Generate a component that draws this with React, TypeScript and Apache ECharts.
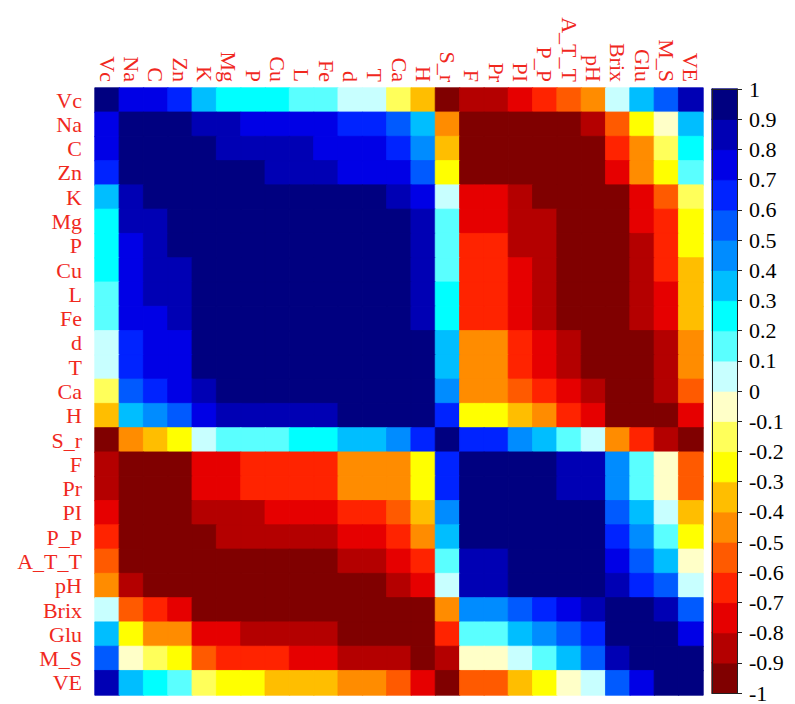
import { useEffect, useRef } from "react";
import * as echarts from "echarts";

const categories = ["Vc", "Na", "C", "Zn", "K", "Mg", "P", "Cu", "L", "Fe", "d", "T", "Ca", "H", "S_r", "F", "Pr", "PI", "P_P", "A_T_T", "pH", "Brix", "Glu", "M_S", "VE"];

const rowVc = [1, 0.75, 0.75, 0.65, 0.35, 0.25, 0.25, 0.25, 0.15, 0.15, 0.05, 0.05, -0.15, -0.35, -0.95, -0.85, -0.85, -0.75, -0.65, -0.55, -0.45, 0.05, 0.35, 0.55, 0.85];
const rowNa = [0.75, 1, 0.95, 0.95, 0.85, 0.85, 0.75, 0.75, 0.75, 0.75, 0.65, 0.65, 0.55, 0.35, -0.45, -0.95, -0.95, -0.95, -0.95, -0.95, -0.85, -0.55, -0.25, -0.05, 0.35];
const rowC = [0.75, 0.95, 1, 0.95, 0.95, 0.85, 0.85, 0.85, 0.85, 0.75, 0.75, 0.75, 0.65, 0.45, -0.35, -0.95, -0.95, -0.95, -0.95, -0.95, -0.95, -0.65, -0.45, -0.15, 0.25];
const rowZn = [0.65, 0.95, 0.95, 1, 0.95, 0.95, 0.95, 0.85, 0.85, 0.85, 0.75, 0.75, 0.75, 0.55, -0.25, -0.95, -0.95, -0.95, -0.95, -0.95, -0.95, -0.75, -0.45, -0.25, 0.15];
const rowK = [0.35, 0.85, 0.95, 0.95, 1, 0.95, 0.95, 0.95, 0.95, 0.95, 0.95, 0.95, 0.85, 0.75, 0.05, -0.75, -0.75, -0.85, -0.95, -0.95, -0.95, -0.95, -0.75, -0.55, -0.15];
const rowMg = [0.25, 0.85, 0.85, 0.95, 0.95, 1, 0.95, 0.95, 0.95, 0.95, 0.95, 0.95, 0.95, 0.85, 0.15, -0.75, -0.75, -0.85, -0.85, -0.95, -0.95, -0.95, -0.75, -0.65, -0.25];
const rowP = [0.25, 0.75, 0.85, 0.95, 0.95, 0.95, 1, 0.95, 0.95, 0.95, 0.95, 0.95, 0.95, 0.85, 0.15, -0.65, -0.65, -0.85, -0.85, -0.95, -0.95, -0.95, -0.85, -0.65, -0.25];
const rowCu = [0.25, 0.75, 0.85, 0.85, 0.95, 0.95, 0.95, 1, 0.95, 0.95, 0.95, 0.95, 0.95, 0.85, 0.15, -0.65, -0.65, -0.75, -0.85, -0.95, -0.95, -0.95, -0.85, -0.65, -0.35];
const rowL = [0.15, 0.75, 0.85, 0.85, 0.95, 0.95, 0.95, 0.95, 1, 0.95, 0.95, 0.95, 0.95, 0.85, 0.25, -0.65, -0.65, -0.75, -0.85, -0.95, -0.95, -0.95, -0.85, -0.75, -0.35];
const rowFe = [0.15, 0.75, 0.75, 0.85, 0.95, 0.95, 0.95, 0.95, 0.95, 1, 0.95, 0.95, 0.95, 0.85, 0.25, -0.65, -0.65, -0.75, -0.85, -0.95, -0.95, -0.95, -0.85, -0.75, -0.35];
const rowD = [0.05, 0.65, 0.75, 0.75, 0.95, 0.95, 0.95, 0.95, 0.95, 0.95, 1, 0.95, 0.95, 0.95, 0.35, -0.45, -0.45, -0.65, -0.75, -0.85, -0.95, -0.95, -0.95, -0.85, -0.45];
const rowT = [0.05, 0.65, 0.75, 0.75, 0.95, 0.95, 0.95, 0.95, 0.95, 0.95, 0.95, 1, 0.95, 0.95, 0.35, -0.45, -0.45, -0.65, -0.75, -0.85, -0.95, -0.95, -0.95, -0.85, -0.45];
const rowCa = [-0.15, 0.55, 0.65, 0.75, 0.85, 0.95, 0.95, 0.95, 0.95, 0.95, 0.95, 0.95, 1, 0.95, 0.45, -0.45, -0.45, -0.55, -0.65, -0.75, -0.85, -0.95, -0.95, -0.85, -0.55];
const rowH = [-0.35, 0.35, 0.45, 0.55, 0.75, 0.85, 0.85, 0.85, 0.85, 0.85, 0.95, 0.95, 0.95, 1, 0.65, -0.25, -0.25, -0.35, -0.45, -0.65, -0.75, -0.95, -0.95, -0.95, -0.75];
const rowSr = [-0.95, -0.45, -0.35, -0.25, 0.05, 0.15, 0.15, 0.15, 0.25, 0.25, 0.35, 0.35, 0.45, 0.65, 1, 0.65, 0.65, 0.45, 0.35, 0.15, 0.05, -0.45, -0.65, -0.85, -0.95];
const rowF = [-0.85, -0.95, -0.95, -0.95, -0.75, -0.75, -0.65, -0.65, -0.65, -0.65, -0.45, -0.45, -0.45, -0.25, 0.65, 1, 0.95, 0.95, 0.95, 0.85, 0.85, 0.45, 0.15, -0.05, -0.55];
const rowPr = [-0.85, -0.95, -0.95, -0.95, -0.75, -0.75, -0.65, -0.65, -0.65, -0.65, -0.45, -0.45, -0.45, -0.25, 0.65, 0.95, 1, 0.95, 0.95, 0.85, 0.85, 0.45, 0.15, -0.05, -0.55];
const rowPI = [-0.75, -0.95, -0.95, -0.95, -0.85, -0.85, -0.85, -0.75, -0.75, -0.75, -0.65, -0.65, -0.55, -0.35, 0.45, 0.95, 0.95, 1, 0.95, 0.95, 0.95, 0.55, 0.35, 0.05, -0.35];
const rowPP = [-0.65, -0.95, -0.95, -0.95, -0.95, -0.85, -0.85, -0.85, -0.85, -0.85, -0.75, -0.75, -0.65, -0.45, 0.35, 0.95, 0.95, 0.95, 1, 0.95, 0.95, 0.65, 0.45, 0.15, -0.25];
const rowATT = [-0.55, -0.95, -0.95, -0.95, -0.95, -0.95, -0.95, -0.95, -0.95, -0.95, -0.85, -0.85, -0.75, -0.65, 0.15, 0.85, 0.85, 0.95, 0.95, 1, 0.95, 0.75, 0.55, 0.35, -0.05];
const rowPH = [-0.45, -0.85, -0.95, -0.95, -0.95, -0.95, -0.95, -0.95, -0.95, -0.95, -0.95, -0.95, -0.85, -0.75, 0.05, 0.85, 0.85, 0.95, 0.95, 0.95, 1, 0.85, 0.65, 0.55, 0.05];
const rowBrix = [0.05, -0.55, -0.65, -0.75, -0.95, -0.95, -0.95, -0.95, -0.95, -0.95, -0.95, -0.95, -0.95, -0.95, -0.45, 0.45, 0.45, 0.55, 0.65, 0.75, 0.85, 1, 0.95, 0.85, 0.55];
const rowGlu = [0.35, -0.25, -0.45, -0.45, -0.75, -0.75, -0.85, -0.85, -0.85, -0.85, -0.95, -0.95, -0.95, -0.95, -0.65, 0.15, 0.15, 0.35, 0.45, 0.55, 0.65, 0.95, 1, 0.95, 0.75];
const rowMS = [0.55, -0.05, -0.15, -0.25, -0.55, -0.65, -0.65, -0.65, -0.75, -0.75, -0.85, -0.85, -0.85, -0.95, -0.85, -0.05, -0.05, 0.05, 0.15, 0.35, 0.55, 0.85, 0.95, 1, 0.95];
const rowVE = [0.85, 0.35, 0.25, 0.15, -0.15, -0.25, -0.25, -0.35, -0.35, -0.35, -0.45, -0.45, -0.55, -0.75, -0.95, -0.55, -0.55, -0.35, -0.25, -0.05, 0.05, 0.55, 0.75, 0.95, 1];

const matrix = [rowVc, rowNa, rowC, rowZn, rowK, rowMg, rowP, rowCu, rowL, rowFe, rowD, rowT, rowCa, rowH, rowSr, rowF, rowPr, rowPI, rowPP, rowATT, rowPH, rowBrix, rowGlu, rowMS, rowVE];

// colour bins from -1 (bottom) to 1 (top), step 0.1
const binLower = [-1, -0.9, -0.8, -0.7, -0.6, -0.5, -0.4, -0.3, -0.2, -0.1, 0, 0.1, 0.2, 0.3, 0.4, 0.5, 0.6, 0.7, 0.8, 0.9];
const binUpper = [-0.9, -0.8, -0.7, -0.6, -0.5, -0.4, -0.3, -0.2, -0.1, 0, 0.1, 0.2, 0.3, 0.4, 0.5, 0.6, 0.7, 0.8, 0.9, 1];
const binColors = [
  "#800000", "#b40000", "#e60000", "#ff2300", "#ff5a00",
  "#ff8c00", "#ffbe00", "#ffff00", "#ffff5a", "#ffffc8",
  "#c8ffff", "#5affff", "#00ffff", "#00beff", "#008cff",
  "#005aff", "#0023ff", "#0000e6", "#0000b4", "#000080",
];

const FONT = "'Liberation Serif', 'Times New Roman', serif";
const LABEL_RED = "#f0281e";

function colorFor(v: number): string {
  for (let i = 0; i < binLower.length; i++) {
    if (v >= binLower[i] && (v < binUpper[i] || i === binLower.length - 1)) return binColors[i];
  }
  return binColors[0];
}

export default function App() {
  const ref = useRef<HTMLDivElement>(null);
  useEffect(() => {
    if (!ref.current) return;
    const chart = echarts.init(ref.current, null, { renderer: "svg" });
    const cells: any[] = [];
    matrix.forEach((row, r) =>
      row.forEach((v, c) => {
        const col = colorFor(v);
        cells.push({ value: [c, r, v], itemStyle: { borderColor: col, borderWidth: 0.8 } });
      })
    );
    const barCells = binLower.map((lo, i) => {
      const col = binColors[i];
      return { value: [0, i, (lo + binUpper[i]) / 2], itemStyle: { borderColor: col, borderWidth: 0.8 } };
    });
    const binNames = binLower.map((lo) => String(lo));

    const pieces: any[] = binLower.map((lo, i) => ({ gte: lo, lt: binUpper[i], color: binColors[i] }));
    pieces[pieces.length - 1] = { gte: 0.9, lte: 1, color: binColors[19] };

    const axisLineOnly = {
      axisLine: { show: true, onZero: false, lineStyle: { color: "#222", width: 1 } },
      axisTick: { show: false },
      axisLabel: { show: false },
      splitLine: { show: false },
    };

    chart.setOption({
      animation: false,
      backgroundColor: "#ffffff",
      grid: [
        { left: 95, top: 88, width: 608, height: 607 },
        { left: 712, top: 89, width: 25, height: 606 },
      ],
      visualMap: {
        type: "piecewise",
        show: false,
        seriesIndex: [0, 1],
        pieces,
      },
      xAxis: [
        {
          type: "category",
          gridIndex: 0,
          data: categories,
          position: "top",
          axisLine: { show: false },
          axisTick: { show: false },
          splitLine: { show: false },
          axisLabel: { interval: 0, rotate: 90, color: LABEL_RED, fontFamily: FONT, fontSize: 22, margin: 6 },
        },
        { type: "category", gridIndex: 1, data: ["bar"], position: "bottom", z: 10, ...axisLineOnly },
        { type: "category", gridIndex: 1, data: ["bar"], position: "top", z: 10, ...axisLineOnly },
      ],
      yAxis: [
        {
          type: "category",
          gridIndex: 0,
          data: categories,
          inverse: true,
          axisLine: { show: false },
          axisTick: { show: false },
          splitLine: { show: false },
          axisLabel: { interval: 0, color: LABEL_RED, fontFamily: FONT, fontSize: 22, margin: 13 },
        },
        { type: "category", gridIndex: 1, data: binNames, position: "left", z: 10, ...axisLineOnly },
        {
          type: "value",
          gridIndex: 1,
          position: "right",
          min: -1,
          max: 1,
          interval: 0.1,
          z: 10,
          axisLine: { show: true, onZero: false, lineStyle: { color: "#222", width: 1 } },
          axisTick: { show: true, length: 5, lineStyle: { color: "#222" } },
          splitLine: { show: false },
          axisLabel: {
            color: "#000",
            fontFamily: FONT,
            fontSize: 22,
            margin: 12,
            formatter: (v: number) => String(Math.round(v * 10) / 10),
          },
        },
      ],
      series: [
        {
          type: "heatmap",
          xAxisIndex: 0,
          yAxisIndex: 0,
          data: cells,
          emphasis: { disabled: true },
        },
        {
          type: "heatmap",
          xAxisIndex: 1,
          yAxisIndex: 1,
          data: barCells,
          emphasis: { disabled: true },
        },
      ],
    });
    return () => chart.dispose();
  }, []);
  return <div ref={ref} style={{ position: "fixed", left: 0, top: 0, width: 795, height: 704 }} />;
}
